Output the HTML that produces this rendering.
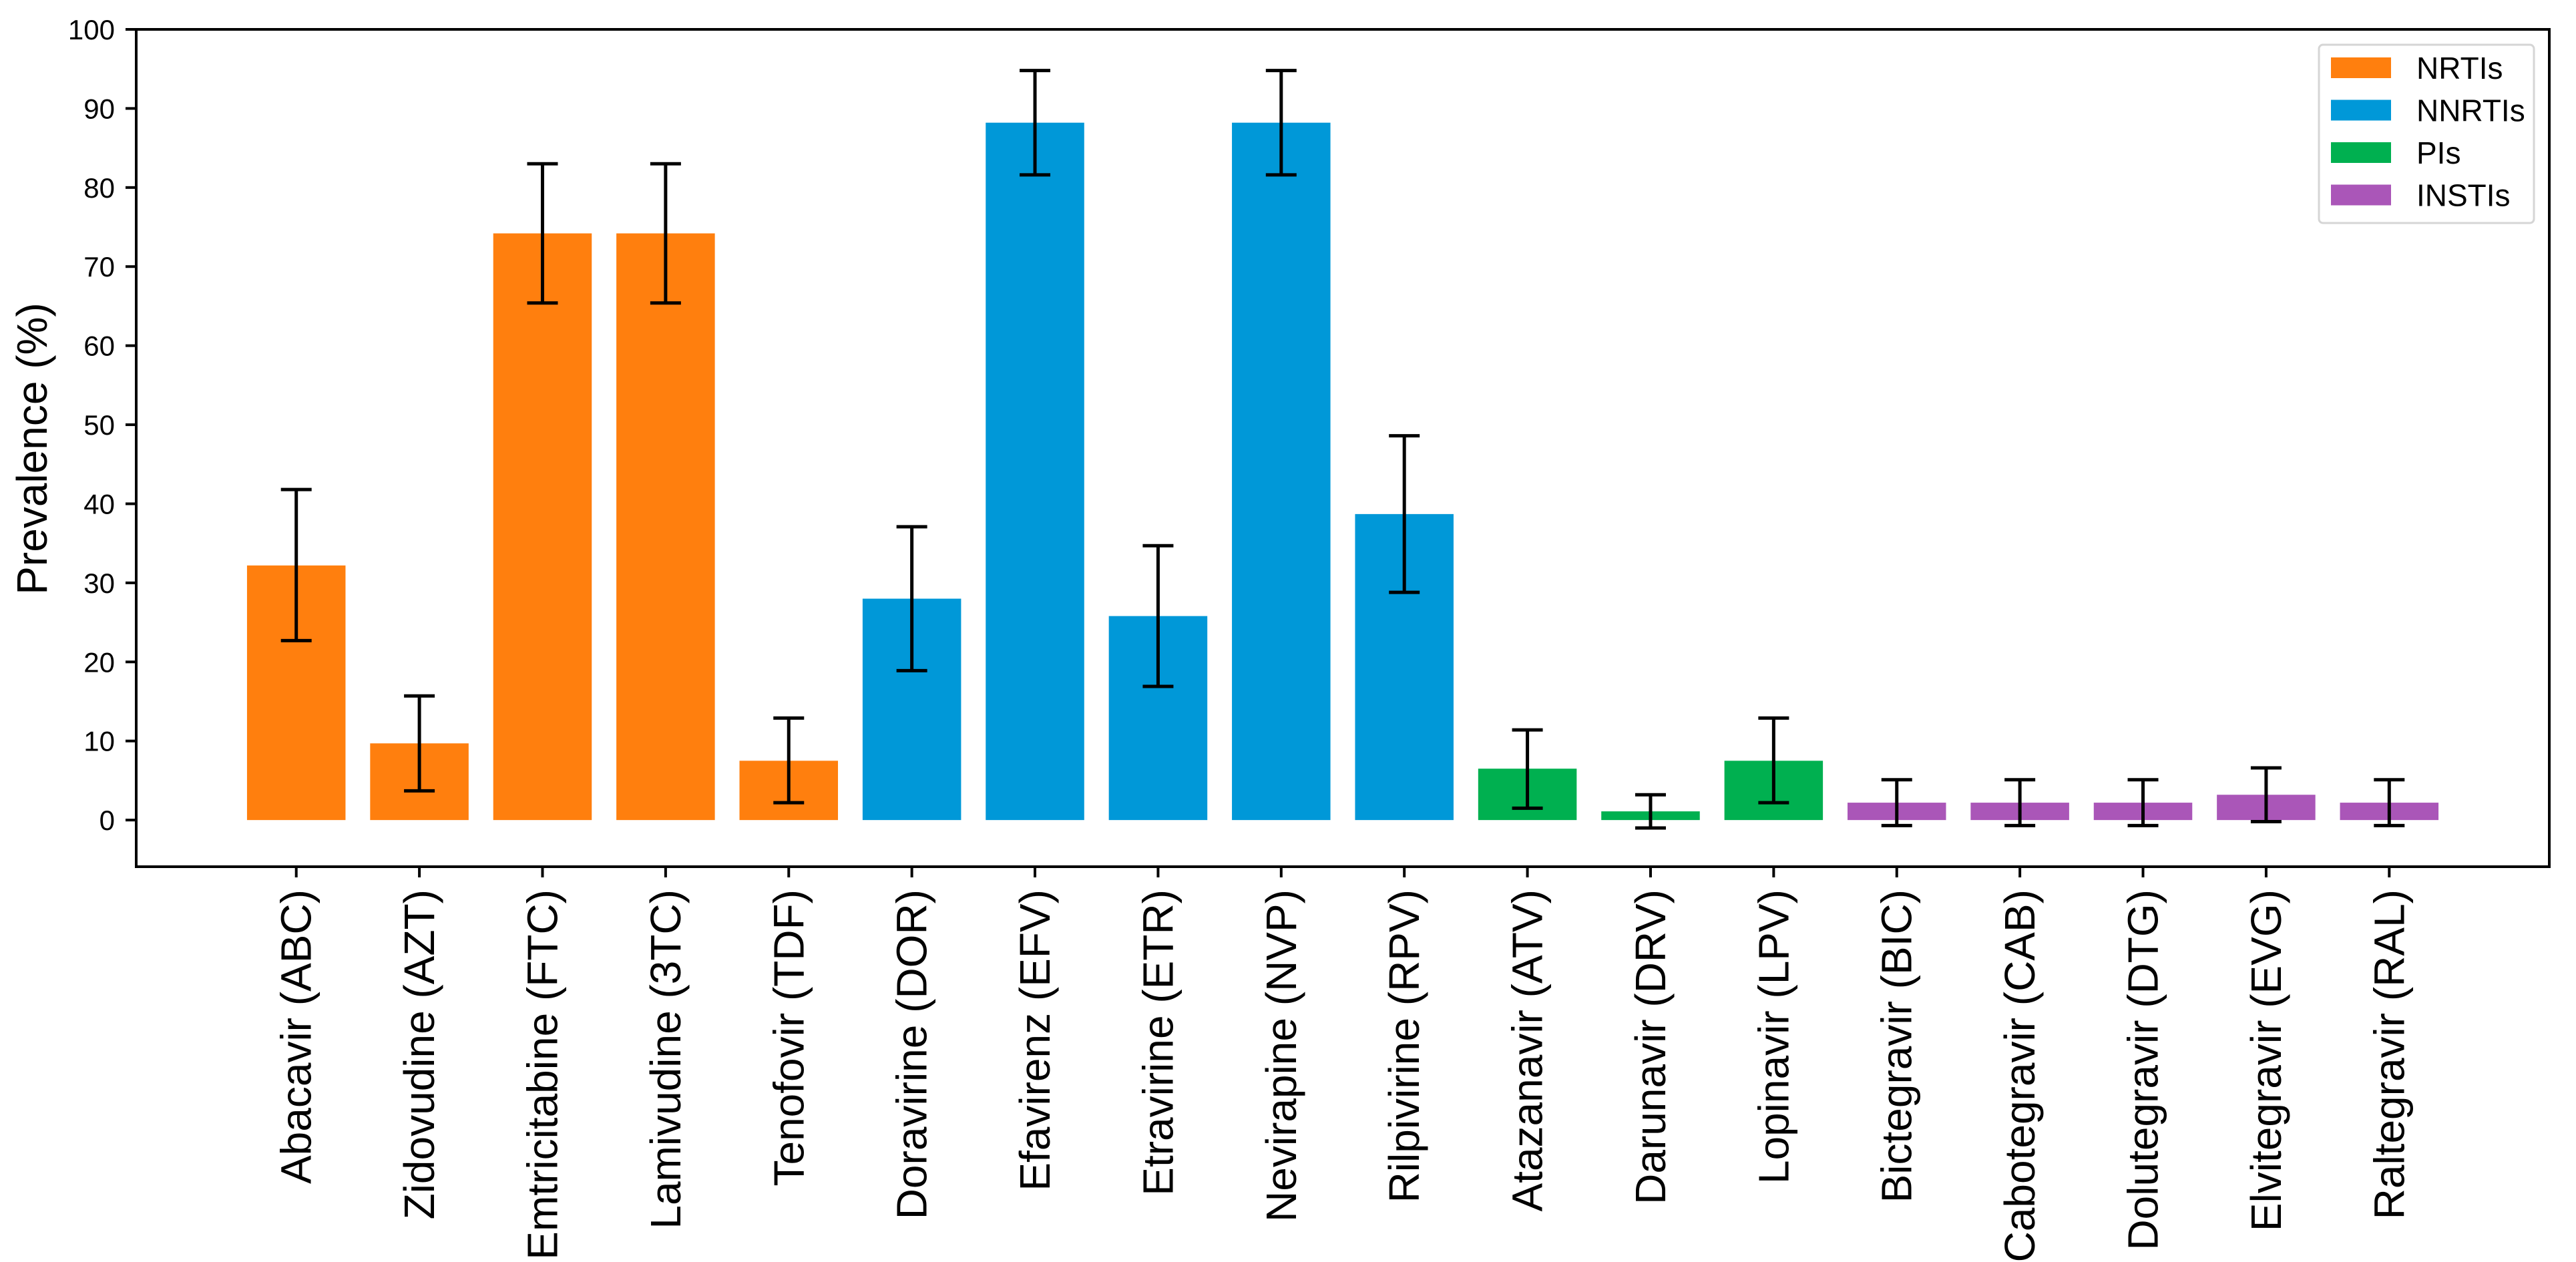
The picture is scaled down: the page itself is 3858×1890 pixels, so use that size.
<!DOCTYPE html>
<html><head><meta charset="utf-8"><style>
html,body{margin:0;padding:0;background:#fff;}
svg{display:block;font-family:"Liberation Sans",Arial,sans-serif;}
</style></head><body>
<svg id="chart" width="3858" height="1890" viewBox="0 0 3858 1890" xmlns="http://www.w3.org/2000/svg">
<rect x="0" y="0" width="3858" height="1890" fill="#fff"/>
<g id="bars"></g>
<g id="errs"></g>
<rect x="204" y="44" width="3614" height="1254" fill="none" stroke="#000" stroke-width="4"/>
<g id="yaxis"></g>
<g id="xaxis"></g>
<text transform="translate(70,672) rotate(-90)" text-anchor="middle" font-size="64">Prevalence (%)</text>
<g>
<rect x="3473" y="67" width="322" height="267" rx="6" fill="#fff" stroke="#d5d5d5" stroke-width="3"/>
<g id="legend-items"></g>
</g>
</svg>
<script>
const categories = ["Abacavir (ABC)","Zidovudine (AZT)","Emtricitabine (FTC)","Lamivudine (3TC)","Tenofovir (TDF)","Doravirine (DOR)","Efavirenz (EFV)","Etravirine (ETR)","Nevirapine (NVP)","Rilpivirine (RPV)","Atazanavir (ATV)","Darunavir (DRV)","Lopinavir (LPV)","Bictegravir (BIC)","Cabotegravir (CAB)","Dolutegravir (DTG)","Elvitegravir (EVG)","Raltegravir (RAL)"];
const groups = [0,0,0,0,0,1,1,1,1,1,2,2,2,3,3,3,3,3];
const values = [32.2,9.7,74.2,74.2,7.5,28.0,88.2,25.8,88.2,38.7,6.5,1.1,7.5,2.2,2.2,2.2,3.2,2.2];
const errLow = [22.7,3.7,65.4,65.4,2.2,18.9,81.6,16.9,81.6,28.8,1.5,-1.0,2.2,-0.7,-0.7,-0.7,-0.2,-0.7];
const errHigh = [41.8,15.7,83.0,83.0,12.9,37.1,94.8,34.7,94.8,48.6,11.4,3.2,12.9,5.1,5.1,5.1,6.6,5.1];
const groupNames = ["NRTIs","NNRTIs","PIs","INSTIs"];
const groupColors = ["#ff7f0e","#0098d8","#00b050","#aa56b8"];
const yTicks = [0,10,20,30,40,50,60,70,80,90,100];

const NS="http://www.w3.org/2000/svg";
const X0=204,X1=3818,Y0=44,Y1=1298;
const xmin=-1.3,xmax=18.3,ymin=-5.9,ymax=100;
function xs(i){return X0+(i-xmin)/(xmax-xmin)*(X1-X0);}
function ys(v){return Y1-(v-ymin)/(ymax-ymin)*(Y1-Y0);}
const step=xs(1)-xs(0), bw=0.8*step;
function mk(tag,attrs,parent){const e=document.createElementNS(NS,tag);for(const k in attrs)e.setAttribute(k,attrs[k]);parent.appendChild(e);return e;}
const gb=document.getElementById('bars'),ge=document.getElementById('errs'),gx=document.getElementById('xaxis'),gy=document.getElementById('yaxis'),gl=document.getElementById('legend-items');
categories.forEach((c,i)=>{
  const cx=xs(i),top=ys(values[i]),base=ys(0);
  const r=mk('rect',{x:cx-bw/2,y:Math.min(top,base),width:bw,height:Math.abs(base-top),fill:groupColors[groups[i]]},gb);
  
  
  const g=mk('g',{stroke:'#000','stroke-width':5},ge);
  
  
  mk('line',{x1:cx,x2:cx,y1:ys(errLow[i]),y2:ys(errHigh[i])},g);
  mk('line',{x1:cx-23,x2:cx+23,y1:ys(errLow[i]),y2:ys(errLow[i])},g);
  mk('line',{x1:cx-23,x2:cx+23,y1:ys(errHigh[i]),y2:ys(errHigh[i])},g);
  const t=mk('line',{x1:cx,x2:cx,y1:Y1,y2:Y1+16,stroke:'#000','stroke-width':4},gx);
  
  
  const l=mk('text',{transform:'translate('+(cx+22)+',1332) rotate(-90)','text-anchor':'end','font-size':64},gx);
  
  
  l.textContent=c;
});
yTicks.forEach(v=>{
  const y=ys(v);
  const t=mk('line',{x1:X0-16,x2:X0,y1:y,y2:y,stroke:'#000','stroke-width':4},gy);
  
  
  const l=mk('text',{x:172,y:y+15,'text-anchor':'end','font-size':42},gy);
  
  
  l.textContent=v;
});
groupNames.forEach((n,k)=>{
  const y=86+k*63.5;
  const p=mk('rect',{x:3491,y:y,width:90,height:31,fill:groupColors[k]},gl);
  
  
  const t=mk('text',{x:3619,y:y+32,'font-size':46},gl);
  
  
  t.textContent=n;
});
</script>
</body></html>
